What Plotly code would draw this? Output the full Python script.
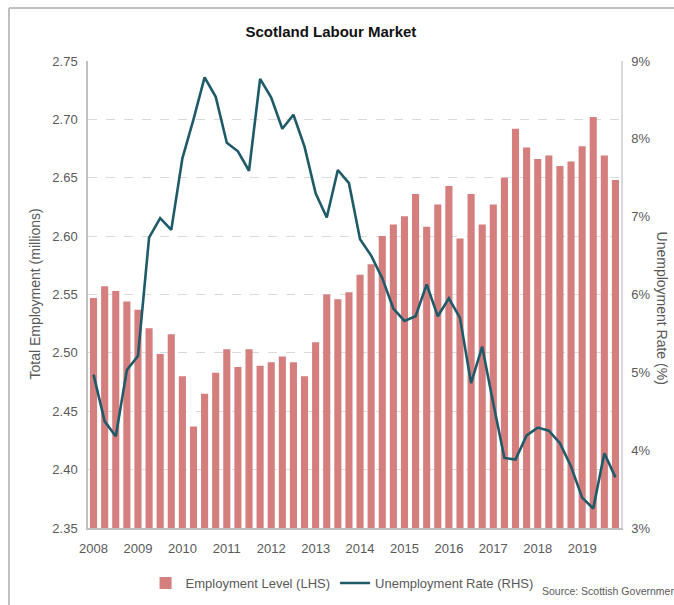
import plotly.graph_objects as go

# quarterly periods, 2008 Q1 - 2019 Q4
quarters = [f"{y} Q{q}" for y in range(2008, 2020) for q in range(1, 5)]
years = [str(y) for y in range(2008, 2020)]
year_ticks = [f"{y} Q1" for y in years]

# total employment (millions), LHS
employment = [
    2.547, 2.557, 2.553, 2.544, 2.537, 2.521, 2.499, 2.516,
    2.480, 2.437, 2.465, 2.483, 2.503, 2.488, 2.503, 2.489,
    2.492, 2.497, 2.492, 2.480, 2.509, 2.550, 2.546, 2.552,
    2.567, 2.576, 2.600, 2.610, 2.617, 2.636, 2.608, 2.627,
    2.643, 2.598, 2.636, 2.610, 2.627, 2.650, 2.692, 2.676,
    2.666, 2.669, 2.660, 2.664, 2.677, 2.702, 2.669, 2.648,
]

# unemployment rate (%), RHS
unemployment = [
    4.97, 4.37, 4.18, 5.03, 5.21, 6.73, 6.98, 6.83,
    7.75, 8.25, 8.79, 8.54, 7.95, 7.84, 7.59, 8.77,
    8.53, 8.13, 8.31, 7.90, 7.30, 6.99, 7.60, 7.43,
    6.71, 6.50, 6.21, 5.82, 5.66, 5.72, 6.13, 5.72,
    5.95, 5.70, 4.86, 5.33, 4.60, 3.90, 3.88, 4.19,
    4.29, 4.25, 4.09, 3.79, 3.39, 3.25, 3.96, 3.65,
]

FONT = "Liberation Sans Narrow, Arial Narrow, Liberation Sans, Arial, sans-serif"
GREY = "#595959"

fig = go.Figure()
fig.add_trace(go.Bar(
    x=quarters, y=employment, name="Employment Level (LHS)",
    marker=dict(color="#d47e7e", line=dict(width=0)), width=0.64,
))
fig.add_trace(go.Scatter(
    x=quarters, y=unemployment, name="Unemployment Rate (RHS)", yaxis="y2",
    mode="lines", line=dict(color="#1f5a68", width=2.6),
))

fig.update_layout(
    width=674, height=605,
    margin=dict(l=88, r=53, t=61, b=77, autoexpand=False),
    paper_bgcolor="white", plot_bgcolor="white",
    font=dict(family=FONT, size=13, color=GREY),
    title=dict(text="<b>Scotland Labour Market</b>", x=0.491, xanchor="center",
               y=0.947, yanchor="middle", font=dict(size=15, color="#111111")),
    showlegend=True,
    legend=dict(orientation="h", x=0.108, y=-0.118, xanchor="left", yanchor="middle",
                font=dict(size=13, color=GREY), itemwidth=30, tracegroupgap=0),
    bargap=0.36,
    xaxis=dict(
        type="category", tickmode="array", tickvals=year_ticks, ticktext=years,
        showline=True, linecolor="#bfbfbf", linewidth=1.5, ticks="",
        showgrid=False, range=[-0.5, 47.5], tickfont=dict(size=13, color=GREY),
        ticklabelstandoff=8,
    ),
    yaxis=dict(
        range=[2.35, 2.75], dtick=0.05, tickformat=".2f",
        showgrid=True, gridcolor="#d9d9d9", griddash="dash", gridwidth=1,
        showline=True, linecolor="#bfbfbf", linewidth=1.5, ticks="",
        zeroline=False, tickfont=dict(size=13, color=GREY), ticklabelstandoff=6,
    ),
    yaxis2=dict(
        range=[3, 9], dtick=1, ticksuffix="%", overlaying="y", side="right",
        showgrid=False, showline=True, linecolor="#d9d9d9", linewidth=1.5,
        ticks="", zeroline=False, tickfont=dict(size=13, color=GREY),
        ticklabelstandoff=6,
    ),
)

fig.add_annotation(text="Total Employment (millions)", xref="paper", yref="paper",
                   x=-0.12, y=0.5, textangle=-90, showarrow=False,
                   font=dict(size=14, color=GREY, family="Liberation Sans, Arial"))
fig.add_annotation(text="Unemployment Rate (%)", xref="paper", yref="paper",
                   x=1.0975, y=0.47, textangle=90, showarrow=False,
                   font=dict(size=14, color=GREY, family="Liberation Sans, Arial"))
fig.add_annotation(text="Source: Scottish Government", xref="paper", yref="paper",
                   x=0.848, y=-0.135, xanchor="left", yanchor="middle", showarrow=False,
                   font=dict(size=10.5, color=GREY))

# outer frame (top and left edges visible)
fig.add_shape(type="line", xref="paper", yref="paper", x0=-0.1482, x1=1.2,
              y0=1.1135, y1=1.1135, line=dict(color="#bfbfbf", width=2))
fig.add_shape(type="line", xref="paper", yref="paper", x0=-0.1482, x1=-0.1482,
              y0=1.1135, y1=-0.25, line=dict(color="#bfbfbf", width=2))

fig.write_html("out.html", config={"displayModeBar": False},
               post_script="document.body.style.margin='0';")
